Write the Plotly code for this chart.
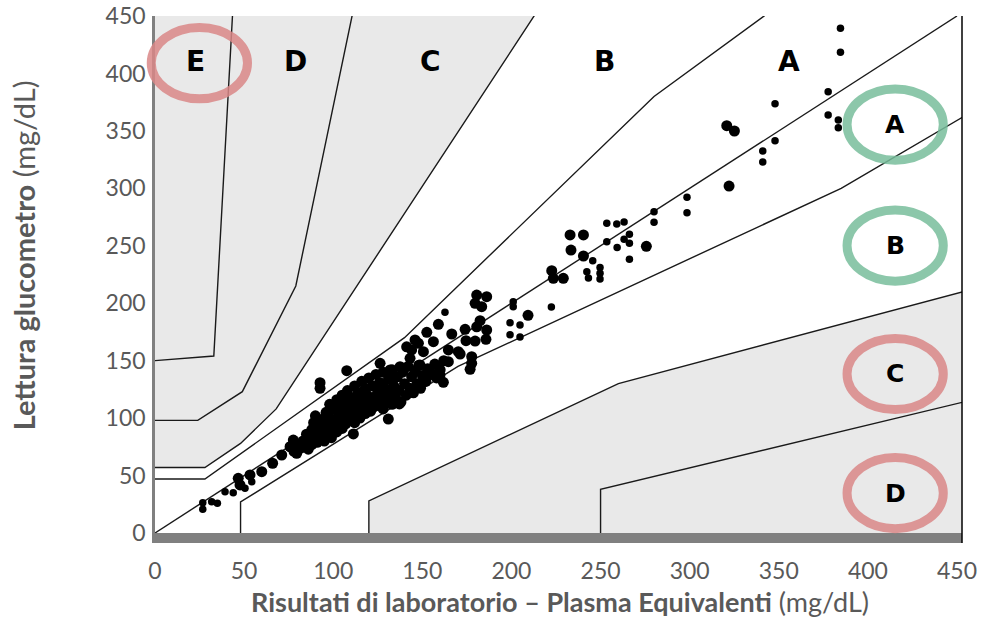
import plotly.graph_objects as go

# ---------------- data ----------------
# Zone boundary lines (lab value, meter reading)
a_up_x = [0, 28, 140, 280, 430]
a_up_y = [47, 47, 170, 380, 550]
b_up_x = [0, 28, 48, 68, 255]
b_up_y = [57, 57, 78, 108, 550]
c_up_x = [0, 24, 49, 79, 124]
c_up_y = [98, 98, 123, 215, 550]
d_up_x = [0, 33, 47]
d_up_y = [150, 154, 550]
a_lo_x = [48, 48, 170, 385, 550]
a_lo_y = [0, 27, 145, 300, 450]
b_lo_x = [120, 120, 260, 550]
b_lo_y = [0, 28, 130, 250]
c_lo_x = [250, 250, 550]
c_lo_y = [0, 38, 150]
diag_x = [0, 450]
diag_y = [0, 450]

# sparse measurements (small dots)
lab_small = [384.6, 384.6, 377.7, 347.9, 377.7, 383.4, 383.4, 347.9, 341, 341,
             298.5, 298.5, 280, 280, 253.5, 259.1, 263.2, 266.2, 253.5, 263.2,
             266.2, 259.3, 266.2, 245.6, 249.7, 249.7, 249.7, 242.3, 243.2,
             201, 201, 199.2, 204.8, 199.2, 204.8, 222.4, 162.7,
             26.8, 26.8, 31.8, 35, 39.3, 43.9, 50.5, 54.3]
meter_small = [439.3, 418.4, 384.1, 373.6, 363.8, 359.4, 352.8, 341.4, 332.5, 322.9,
               292.2, 278.8, 279.6, 270.4, 269.5, 268.9, 270.7, 260, 253.5, 255.6,
               252.1, 248.6, 238.2, 237, 231.2, 226, 221.1, 227.4, 222,
               201.3, 197, 183, 181, 172.6, 170.6, 196.7, 192.1,
               26.4, 20.6, 27.2, 25.8, 36, 35.1, 38.9, 44.6]

# dense measurements (larger dots)
lab_big = [320.8, 325.1, 322.1, 232.9, 240.4, 233.4, 240.4, 222.6, 223.5, 229.1,
           275.7, 209.3, 180.5, 186.1, 179.6, 183.3, 182.4, 180.5, 186.1, 174.5,
           179.6, 185.7, 174, 166.5, 159, 152.5,
           46.7, 47.7, 53.3, 59.9, 66, 71.1, 75.8, 79.5,
           107.6, 92.6, 92.6, 130.9, 111.3, 77.6, 161.8, 137.1, 130,
           126.3, 131.9, 137.5, 133.7, 141.2, 143.1, 147.8, 148.7, 145.9, 156.2,
           144, 150.6, 164.6, 171.2, 177.7, 177.7, 176.8, 164.6, 159.9, 154.3, 170.2,
           76, 78, 80, 82, 83, 85, 85, 86, 87, 88, 88, 89, 90, 90, 91, 92, 92, 93,
           94, 95, 95, 96, 97, 97, 98, 98, 99, 100, 100, 101, 102, 102, 103, 104,
           104, 105, 105, 106, 107, 107, 108, 108, 109, 110, 110, 111, 112, 112,
           113, 114, 114, 115, 116, 116, 117, 118, 118, 119, 120, 120, 121, 122,
           123, 123, 124, 125, 126, 126, 127, 128, 128, 129, 130, 131, 132, 133,
           133, 134, 135, 136, 137, 138, 139, 140, 141, 142, 143, 144, 145, 146,
           147, 148, 149, 150, 152, 153, 155, 157, 158, 160, 162]
meter_big = [354.5, 349.9, 302, 259.4, 259.4, 246.3, 241.1, 228.3, 221.7, 221.7,
             249.5, 189.5, 207.1, 205.7, 199.9, 197, 184.8, 179.5, 176.7, 167.4,
             167.1, 168.6, 177.3, 173.2, 181.6, 174.7,
             47.6, 41.8, 50.5, 53.4, 60.7, 67.9, 75.1, 69.4,
             141.3, 130.8, 125.9, 99.2, 86.2, 80.9, 131.2, 112.3, 113.4,
             147.7, 141.9, 144.7, 134.6, 162.1, 152, 165.1, 146.2, 168, 166.5,
             159.3, 157.8, 159.3, 155.8, 153.4, 147.7, 142.5, 149.1, 137.5, 140.4, 157.8,
             75, 71, 77, 74, 80, 78, 86, 73, 82, 90, 77, 96, 84, 102, 79, 88, 95, 84,
             99, 91, 80, 105, 87, 95, 112, 100, 83, 92, 108, 97, 88, 116, 103, 95,
             110, 91, 120, 100, 113, 95, 106, 124, 98, 118, 110, 102, 128, 96,
             114, 107, 122, 100, 132, 117, 110, 104, 126, 120, 113, 135, 106, 128,
             118, 110, 138, 124, 113, 131, 120, 108, 140, 126, 116, 134, 122, 112,
             142, 128, 118, 136, 124, 114, 140, 130, 120, 145, 126, 136, 122, 141,
             130, 146, 126, 137, 132, 143, 138, 147, 135, 142, 150]

# zone labels
top_labels = ["E", "D", "C", "B", "A"]
top_label_x = [23, 78.6, 154.3, 252, 355.8]
top_label_y = [410, 410, 410, 410, 410]
side_labels = ["A", "B", "C", "D"]
side_label_y = [355.5, 250.2, 138.4, 34.8]
side_label_x = [415.3, 415.3, 415.3, 415.3]
side_circle_colors = ["green", "green", "red", "red"]

x_ticks = [0, 50, 100, 150, 200, 250, 300, 350, 400, 450]
y_ticks = [0, 50, 100, 150, 200, 250, 300, 350, 400, 450]

XMAX = 452.8
YMAX = 450

GRAY_FILL = "#e9e9e9"
LINE_COL = "#1a1a1a"
TXT = "#595959"
GREEN = "rgb(120,190,156)"
RED = "rgb(218,136,136)"

fig = go.Figure()

# shaded regions (outside zones A/B)
fig.add_trace(go.Scatter(x=b_up_x + [b_up_x[-1], 0], y=b_up_y + [550, 550],
                         fill="toself", fillcolor=GRAY_FILL, line=dict(width=0),
                         mode="lines", hoverinfo="skip", showlegend=False))
fig.add_trace(go.Scatter(x=b_lo_x + [550], y=b_lo_y + [0],
                         fill="toself", fillcolor=GRAY_FILL, line=dict(width=0),
                         mode="lines", hoverinfo="skip", showlegend=False))

for xs, ys in [(a_up_x, a_up_y), (b_up_x, b_up_y), (c_up_x, c_up_y), (d_up_x, d_up_y),
               (a_lo_x, a_lo_y), (b_lo_x, b_lo_y), (c_lo_x, c_lo_y), (diag_x, diag_y)]:
    fig.add_trace(go.Scatter(x=xs, y=ys, mode="lines",
                             line=dict(color=LINE_COL, width=1.4),
                             hoverinfo="skip", showlegend=False))

fig.add_trace(go.Scatter(x=lab_big, y=meter_big, mode="markers",
                         marker=dict(color="black", size=11, line=dict(width=0)),
                         showlegend=False))
fig.add_trace(go.Scatter(x=lab_small, y=meter_small, mode="markers",
                         marker=dict(color="black", size=7.5, line=dict(width=0)),
                         showlegend=False))

shapes = []
RX, RY = 27, 31


def ellipse(cx, cy, color):
    return dict(type="circle", xref="paper", yref="paper",
                x0=(cx - RX) / XMAX, x1=(cx + RX) / XMAX,
                y0=(cy - RY) / YMAX, y1=(cy + RY) / YMAX,
                line=dict(color=color, width=9), opacity=0.85, layer="above")


shapes.append(ellipse(top_label_x[0] + 1.9, top_label_y[0] - 1, RED))
for lx, ly, c in zip(side_label_x, side_label_y, side_circle_colors):
    shapes.append(ellipse(lx, ly, GREEN if c == "green" else RED))

# right frame line (extends through the bottom bar)
shapes.append(dict(type="line", xref="paper", yref="paper", x0=1, x1=1,
                   y0=-10 / 517, y1=1, line=dict(color="black", width=1.5)))

annotations = []
for t, x, y in zip(top_labels, top_label_x, top_label_y):
    annotations.append(dict(x=x, y=y, xref="x", yref="y", text=f"<b>{t}</b>",
                            showarrow=False,
                            font=dict(family="DejaVu Sans", size=28, color="black")))
for t, x, y in zip(side_labels, side_label_x, side_label_y):
    annotations.append(dict(x=x, y=y, xref="x", yref="y", text=f"<b>{t}</b>",
                            showarrow=False,
                            font=dict(family="DejaVu Sans", size=25, color="black")))

annotations.append(dict(x=0.502, y=-0.133, xref="paper", yref="paper",
                        text="<b>Risultati di laboratorio – Plasma Equivalenti</b> (mg/dL)",
                        showarrow=False, xanchor="center", yanchor="middle",
                        font=dict(family="Lato", size=27, color=TXT)))
annotations.append(dict(x=-0.163, y=0.538, xref="paper", yref="paper",
                        text="<b>Lettura glucometro</b> (mg/dL)", textangle=-90,
                        showarrow=False, xanchor="center", yanchor="middle",
                        font=dict(family="Lato", size=29, color=TXT)))

fig.update_layout(
    width=996, height=620,
    margin=dict(l=155, r=34, t=16, b=87, autoexpand=False),
    paper_bgcolor="white", plot_bgcolor="white",
    shapes=shapes, annotations=annotations,
    xaxis=dict(range=[0, XMAX], tickvals=x_ticks, showgrid=False, zeroline=False,
               automargin=False,
               showline=True, linecolor="#808080", linewidth=10,
               ticks="outside", ticklen=8, tickcolor="rgba(0,0,0,0)",
               tickfont=dict(family="Lato", size=23, color=TXT)),
    yaxis=dict(range=[0, YMAX], tickvals=y_ticks, showgrid=False, zeroline=False,
               automargin=False,
               showline=True, linecolor="#808080", linewidth=2.5,
               ticks="outside", ticklen=2, tickcolor="rgba(0,0,0,0)",
               tickfont=dict(family="Lato", size=23, color=TXT)),
)

fig.write_html("out.html")
